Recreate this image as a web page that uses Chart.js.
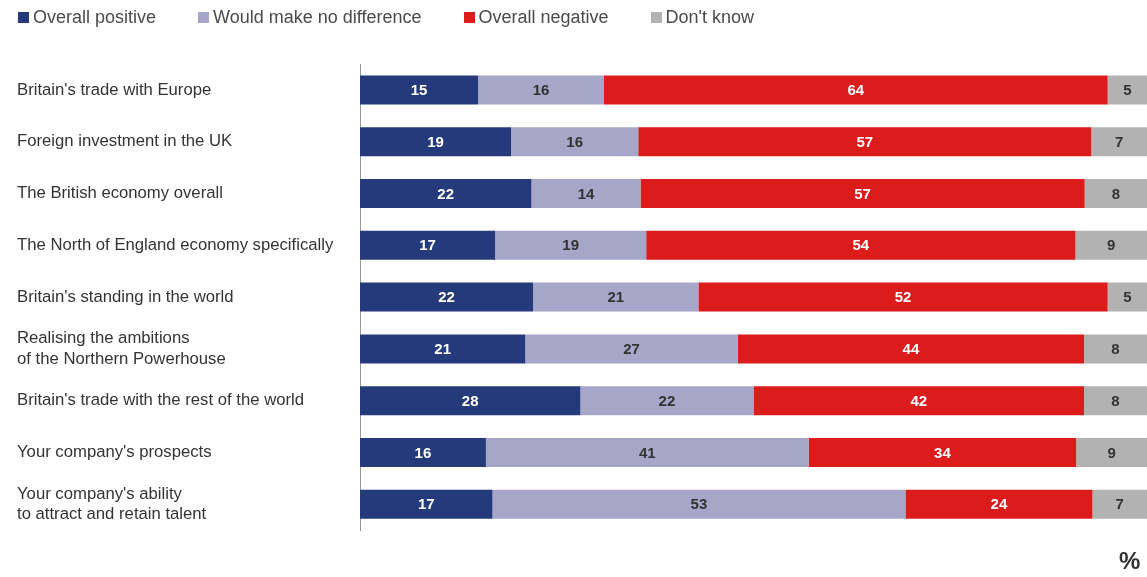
<!DOCTYPE html>
<html>
<head>
<meta charset="utf-8">
<script src="https://cdn.jsdelivr.net/npm/chart.js@4.4.1/dist/chart.umd.min.js"></script>
<style>
  html, body { margin: 0; padding: 0; background: #fff; }
  #wrap { position: relative; width: 1147px; height: 577px; }
  #legend {
    position: absolute; left: 18px; top: 7px; display: flex;
    font-family: 'Liberation Sans', Arial, Helvetica, sans-serif;
    font-size: 18px; color: #4a4a4a; line-height: 20px;
  }
  #legend .item { display: flex; align-items: center; margin-right: 42px; }
  #legend .box { width: 11px; height: 11px; margin-right: 4px; }
</style>
</head>
<body>
<div id="wrap">
  <canvas id="impactChart" width="1147" height="577"></canvas>
  <div id="legend"></div>
</div>
<script>
// Survey rows, top to bottom
const categories = [
    "Britain's trade with Europe",
    "Foreign investment in the UK",
    "The British economy overall",
    "The North of England economy specifically",
    "Britain's standing in the world",
    ["Realising the ambitions", "of the Northern Powerhouse"],
    "Britain's trade with the rest of the world",
    "Your company's prospects",
    ["Your company's ability", "to attract and retain talent"]
];
const seriesNames = ["Overall positive", "Would make no difference", "Overall negative", "Don't know"];
const positive   = [15, 19, 22, 17, 22, 21, 28, 16, 17];
const noDiff     = [16, 16, 14, 19, 21, 27, 22, 41, 53];
const negative   = [64, 57, 57, 54, 52, 44, 42, 34, 24];
const dontKnow   = [5, 7, 8, 9, 5, 8, 8, 9, 7];
const seriesColors = ['#243a7b', '#a6a6c9', '#dc1b1b', '#b2b2b2'];
const labelColors  = ['#ffffff', '#333333', '#ffffff', '#333333'];

const allSeries = [positive, noDiff, negative, dontKnow];
// rounded values don't always add to 100, so each bar is stretched to full width
const rowTotals = categories.map((c, i) => allSeries.reduce((s, arr) => s + arr[i], 0));

const FONT = "'Liberation Sans', Arial, Helvetica, sans-serif";

// legend above the plot
const legendEl = document.getElementById('legend');
seriesNames.forEach((name, i) => {
    const item = document.createElement('div');
    item.className = 'item';
    item.innerHTML = `<span class="box" style="background:${seriesColors[i]}"></span><span>${name}</span>`;
    legendEl.appendChild(item);
});

const segmentLabels = {
    id: 'segmentLabels',
    afterDatasetsDraw(chart) {
        const ctx = chart.ctx;
        ctx.save();
        ctx.font = 'bold 15px ' + FONT;
        ctx.textAlign = 'center';
        ctx.textBaseline = 'middle';
        chart.data.datasets.forEach((ds, di) => {
            chart.getDatasetMeta(di).data.forEach((bar, i) => {
                const mid = (bar.x + bar.base) / 2;
                ctx.fillStyle = labelColors[di];
                ctx.fillText(String(allSeries[di][i]), mid, bar.y + 1);
            });
        });
        ctx.restore();
    }
};

const ctx = document.getElementById('impactChart').getContext('2d');
new Chart(ctx, {
    type: 'bar',
    data: {
        labels: categories,
        datasets: allSeries.map((arr, di) => ({
            label: seriesNames[di],
            data: arr.map((v, i) => v / rowTotals[i] * 100),
            backgroundColor: seriesColors[di],
            borderWidth: 0,
            barPercentage: 0.56,
            categoryPercentage: 1
        }))
    },
    options: {
        indexAxis: 'y',
        responsive: false,
        maintainAspectRatio: false,
        animation: false,
        layout: { padding: { left: 17, right: 0, top: 64, bottom: 0 } },
        plugins: {
            tooltip: { enabled: false },
            legend: { display: false }
        },
        scales: {
            x: {
                stacked: true,
                min: 0,
                max: 100,
                grid: { display: false, drawTicks: false },
                border: { display: false },
                ticks: { display: false },
                title: {
                    display: true,
                    text: '% ',
                    align: 'end',
                    color: '#333',
                    font: { family: FONT, size: 24, weight: 'bold' },
                    padding: { top: 18, bottom: 0 }
                }
            },
            y: {
                stacked: true,
                grid: { display: false, drawTicks: false },
                border: { display: true, color: '#999', width: 1 },
                ticks: {
                    crossAlign: 'far',
                    color: '#333',
                    padding: 0,
                    font: { family: FONT, size: 16.7, lineHeight: 1.2 }
                },
                afterFit(scale) { scale.width = 343; }
            }
        }
    },
    plugins: [segmentLabels]
});
</script>
</body>
</html>
